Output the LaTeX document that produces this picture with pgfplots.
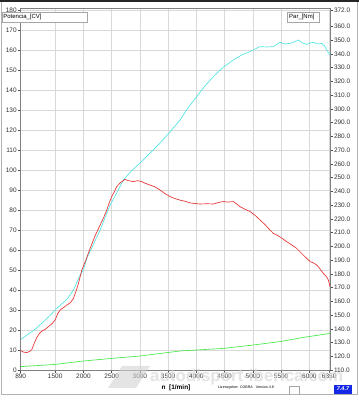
\documentclass[border=0pt]{standalone}
\usepackage{pgfplots}
\pgfplotsset{compat=1.18}
\usepackage{fontspec}
\setmainfont{Liberation Sans}
\definecolor{cyanc}{RGB}{80,228,228}
\definecolor{redc}{RGB}{232,48,48}
\definecolor{greenc}{RGB}{70,232,70}
\definecolor{boxblue}{RGB}{20,40,230}
\begin{document}
\begin{tikzpicture}[x=1bp,y=1bp]
\useasboundingbox (0,0) rectangle (359,400);
\fill[white] (0,0) rectangle (359,400);
% outer frame
\draw[gray!60, line width=0.8bp] (1.5,5.5) -- (1.5,398) ;
\draw[gray!60, line width=0.8bp] (1.5,5.5) -- (357.5,5.5) -- (357.5,398);
\fill[black!85] (0,397.5) rectangle (359,400);

\begin{axis}[
  at={(20.7bp,30bp)}, anchor=south west, scale only axis,
  width=309.3bp, height=362bp,
  xmin=890, xmax=6365, ymin=0, ymax=181,
  xtick={890,1500,2000,2500,3000,3500,4000,4500,5000,5500,6000,6350},
  xticklabels={890,1500,2000,2500,3000,3500,4000,4500,5000,5500,6000,6350},
  ytick={0,10,...,180},
  tick align=outside, major tick length=3bp, xtick pos=bottom, ytick pos=left,
  grid=major, grid style={gray!30, line width=0.5bp},
  axis line style={black!50, line width=0.6bp},
  tick style={black!70, line width=0.5bp},
  ticklabel style={font=\fontsize{6.5}{7}\selectfont, text=black!80},
  xticklabel style={inner ysep=1bp},
  yticklabel style={inner xsep=0.8bp},
  /pgf/number format/assume math mode=true,
]
% Potencia [CV]
\addplot[cyanc, line width=0.65bp] coordinates {
(893,15.3) (1000,17.5) (1116,19.7) (1250,23.0) (1400,27.0) (1500,30.0)
(1600,32.6) (1707,35.3) (1824,40.0) (1942,47.5) (2001,50.0) (2061,55.8)
(2180,63.0) (2296,70.0) (2380,76.0) (2473,82.5) (2590,88.5) (2708,95.0)
(2850,99.5) (3004,103.5) (3180,108.5) (3357,113.5) (3530,119.0) (3711,125.0)
(3850,131.0) (4007,136.7) (4150,142.0) (4300,146.7) (4480,151.5) (4654,155.0)
(4800,157.5) (4950,159.2) (5126,161.7) (5250,161.5) (5362,161.7) (5480,163.8)
(5570,163.0) (5657,163.3) (5730,164.0) (5804,165.0) (5880,163.5) (5953,162.8)
(6010,163.5) (6069,163.8) (6150,163.0) (6218,163.3) (6270,162.0) (6306,160.0) (6365,157.5)
};
% green
\addplot[greenc, line width=0.65bp] coordinates {
(893,1.7) (1500,2.8) (2001,4.5) (2500,5.8) (3004,7.0) (3711,9.5) (4477,10.8)
(5008,12.5) (5480,14.2) (5893,16.3) (6365,18.3)
};
\end{axis}

\begin{axis}[
  at={(20.7bp,30bp)}, anchor=south west, scale only axis,
  width=309.3bp, height=362bp,
  xmin=890, xmax=6365, ymin=110, ymax=373.46,
  axis x line=none, axis y line*=right,
  ytick={110,120,...,360,372},
  yticklabels={110.0,120.0,130.0,140.0,150.0,160.0,170.0,180.0,190.0,200.0,210.0,220.0,230.0,240.0,250.0,260.0,270.0,280.0,290.0,300.0,310.0,320.0,330.0,340.0,350.0,360.0,372.0},
  tick align=outside, major tick length=3bp,
  axis line style={black!50, line width=0.6bp},
  tick style={black!70, line width=0.5bp},
  ticklabel style={font=\fontsize{6.5}{7}\selectfont, text=black!80},
  yticklabel style={inner xsep=0.8bp},
]
% Par [Nm]
\addplot[redc, line width=0.65bp] coordinates {
(893,124.1) (940,123.0) (999,122.7) (1050,123.5) (1088,125.0) (1130,129.5) (1176,133.7)
(1220,136.5) (1265,138.4) (1320,139.5) (1382,141.6) (1440,143.5) (1500,146.4)
(1545,151.0) (1588,153.7) (1650,155.5) (1707,157.3) (1770,159.0) (1824,162.1)
(1870,167.5) (1912,173.0) (1972,182.8) (2031,188.6) (2119,198.5) (2200,207.0)
(2296,215.5) (2360,221.0) (2413,226.4) (2460,232.0) (2502,236.2) (2550,240.0)
(2590,243.5) (2660,246.5) (2737,248.7) (2800,247.8) (2884,247.1) (2960,247.8)
(3032,247.1) (3100,245.8) (3180,244.6) (3270,243.2) (3357,241.0) (3440,238.5)
(3534,236.2) (3620,234.8) (3711,233.6) (3800,232.8) (3900,231.5) (4065,230.8)
(4180,231.0) (4300,230.8) (4400,232.0) (4477,232.6) (4560,232.2) (4654,232.6)
(4710,231.0) (4771,228.9) (4860,227.0) (4950,225.3) (5040,222.5) (5126,219.2)
(5210,216.0) (5303,211.9) (5360,209.5) (5421,208.3) (5510,206.0) (5598,203.4)
(5690,201.0) (5775,198.5) (5860,195.0) (5953,191.2) (6012,188.9) (6070,188.0)
(6130,186.4) (6190,183.5) (6247,180.3) (6300,178.0) (6336,175.5) (6365,170.7)
};
\end{axis}

% legend boxes
\draw[gray!70, fill=white, line width=0.5bp] (2,378) rectangle (87.5,387.7);
\node[anchor=west, inner sep=0pt, font=\fontsize{6}{6}\selectfont] at (3.2,383) {Potencia\_[CV]};
\draw[gray!70, fill=white, line width=0.5bp] (287.5,378) rectangle (319,387.7);
\node[anchor=west, inner sep=0pt, font=\fontsize{6}{6}\selectfont] at (289,383) {Par\_[Nm]};

% watermark
\fill[gray!35, opacity=0.6] (108,12) -- (136,12) -- (150,34) -- (122,34) -- cycle;
\node[anchor=west, inner sep=0pt, text=gray!30, opacity=0.7, font=\bfseries\fontsize{17}{17}\selectfont] at (150,23) {autodisport-iberica.com};

% bottom texts
\node[inner sep=0pt, font=\bfseries\fontsize{6.5}{7}\selectfont] at (176,12) {n\ \ [1/min]};
\node[anchor=west, inner sep=0pt, font=\fontsize{3.6}{4}\selectfont] at (218,12) {Lizenzgeber: COBRA\ \ \ Version 4.8};
\draw[gray!70, line width=0.4bp] (289,5.5) -- (289,14) -- (299,14) -- (299,5.5);
\fill[boxblue] (334,6.5) rectangle (352,15.5);
\node[inner sep=0pt, text=white, font=\bfseries\itshape\fontsize{5.5}{6}\selectfont] at (343,11) {7.4.7};
\end{tikzpicture}
\end{document}
